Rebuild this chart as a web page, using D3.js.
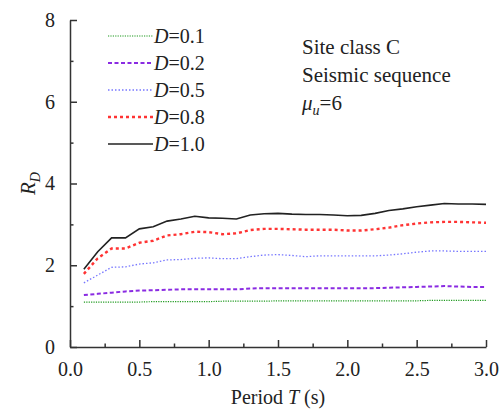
<!DOCTYPE html>
<html>
<head>
<meta charset="utf-8">
<script src="https://cdn.jsdelivr.net/npm/d3@7"></script>
<style>
  body { margin: 0; background: #fff; }
  svg text { font-family: 'Liberation Serif', 'Times New Roman', Times, 'DejaVu Serif', serif; fill: #222; }
</style>
</head>
<body>
<div id="chart"></div>
<script>
// period values (s)
var periods = [0.1, 0.2, 0.3, 0.4, 0.5, 0.6, 0.7, 0.8, 0.9, 1.0,
  1.1, 1.2, 1.3, 1.4, 1.5, 1.6, 1.7, 1.8, 1.9, 2.0,
  2.1, 2.2, 2.3, 2.4, 2.5, 2.6, 2.7, 2.8, 2.9, 3.0];

// R_D
var rd01 = [1.10, 1.10, 1.10, 1.10, 1.10, 1.11, 1.11, 1.11, 1.11, 1.11,
  1.12, 1.12, 1.12, 1.12, 1.13, 1.13, 1.13, 1.13, 1.13, 1.13,
  1.13, 1.13, 1.13, 1.13, 1.13, 1.14, 1.14, 1.14, 1.14, 1.14];
var rd02 = [1.27, 1.30, 1.33, 1.36, 1.38, 1.39, 1.40, 1.41, 1.41, 1.41,
  1.41, 1.41, 1.43, 1.44, 1.44, 1.44, 1.44, 1.44, 1.44, 1.44,
  1.44, 1.44, 1.45, 1.46, 1.47, 1.48, 1.49, 1.48, 1.47, 1.47];
var rd05 = [1.57, 1.76, 1.95, 1.96, 2.03, 2.06, 2.13, 2.14, 2.17, 2.18,
  2.16, 2.16, 2.21, 2.25, 2.26, 2.24, 2.21, 2.23, 2.23, 2.23,
  2.23, 2.23, 2.25, 2.28, 2.32, 2.35, 2.35, 2.34, 2.34, 2.34];
var rd08 = [1.79, 2.17, 2.41, 2.41, 2.55, 2.60, 2.73, 2.76, 2.82, 2.81,
  2.76, 2.78, 2.86, 2.89, 2.89, 2.88, 2.87, 2.87, 2.87, 2.85,
  2.85, 2.88, 2.92, 2.98, 3.02, 3.05, 3.06, 3.06, 3.05, 3.04];
var rd10 = [1.90, 2.33, 2.67, 2.67, 2.89, 2.94, 3.08, 3.13, 3.20, 3.16,
  3.15, 3.13, 3.23, 3.26, 3.27, 3.25, 3.24, 3.24, 3.23, 3.21,
  3.22, 3.27, 3.34, 3.38, 3.43, 3.47, 3.51, 3.50, 3.50, 3.49];

var legendLabels = ["0.1", "0.2", "0.5", "0.8", "1.0"];
var xTicks = [0, 0.5, 1.0, 1.5, 2.0, 2.5, 3.0];
var yTicks = [0, 2, 4, 6, 8];

var svgWidth = 501;
var svgHeight = 412;
var margin = { top: 20, right: 15, bottom: 65, left: 70 };
var width = svgWidth - margin.left - margin.right;
var height = svgHeight - margin.top - margin.bottom;

var serif = "'Liberation Serif', 'Times New Roman', Times, 'DejaVu Serif', serif";

var svg = d3.select("#chart").append("svg")
  .attr("width", svgWidth)
  .attr("height", svgHeight)
  .attr("font-family", serif);

var chartGroup = svg.append("g")
  .attr("transform", `translate(${margin.left}, ${margin.top})`);

var x = d3.scaleLinear().domain([0, 3]).range([0, width]);
var y = d3.scaleLinear().domain([0, 8]).range([height, 0]);

// minor ticks first, then major ticks with labels
chartGroup.append("g")
  .attr("transform", `translate(0, ${height})`)
  .call(d3.axisTop(x).tickValues(d3.range(0.25, 3, 0.5)).tickSize(3.5).tickFormat(""))
  .call(g => g.select(".domain").remove());
chartGroup.append("g")
  .call(d3.axisRight(y).tickValues([1, 3, 5, 7]).tickSize(3.5).tickFormat(""))
  .call(g => g.select(".domain").remove());

var xAxis = chartGroup.append("g")
  .attr("transform", `translate(0, ${height})`)
  .call(d3.axisBottom(x).tickValues(xTicks).tickSizeInner(-7).tickSizeOuter(0)
    .tickPadding(15).tickFormat(d3.format(".1f")));
var yAxis = chartGroup.append("g")
  .call(d3.axisLeft(y).tickValues(yTicks).tickSizeInner(-7).tickSizeOuter(0)
    .tickPadding(15).tickFormat(d3.format("d")));

svg.selectAll("g").attr("font-family", serif);
svg.selectAll(".domain, .tick line").attr("stroke", "#333").attr("stroke-width", 1.5);
svg.selectAll(".tick text").attr("font-size", "20px").attr("fill", "#222")
  .attr("font-family", serif);

var series = [
  { vals: rd01, color: "#1f9a1f", width: 1.2, dash: "1.2,1.2" },
  { vals: rd02, color: "#8a2be2", width: 2, dash: "4,2.5" },
  { vals: rd05, color: "#7777ff", width: 1.3, dash: "1.5,2" },
  { vals: rd08, color: "#ff3333", width: 2.4, dash: "3,3" },
  { vals: rd10, color: "#222", width: 1.6, dash: null }
];

var line = d3.line()
  .x((d, i) => x(periods[i]))
  .y(d => y(d));

series.forEach(function(s) {
  chartGroup.append("path")
    .datum(s.vals)
    .attr("fill", "none")
    .attr("stroke", s.color)
    .attr("stroke-width", s.width)
    .attr("stroke-dasharray", s.dash)
    .attr("d", line);
});

// legend
var legend = svg.append("g");
series.forEach(function(s, i) {
  var ly = 36 + i * 27;
  legend.append("line")
    .attr("x1", 108).attr("x2", 153)
    .attr("y1", ly).attr("y2", ly)
    .attr("stroke", s.color)
    .attr("stroke-width", s.width)
    .attr("stroke-dasharray", s.dash);
  var t = legend.append("text")
    .attr("x", 154).attr("y", ly + 7)
    .attr("font-size", "20px");
  t.append("tspan").attr("font-style", "italic").text("D");
  t.append("tspan").text("=" + legendLabels[i]);
});

// annotation
svg.append("text").attr("x", 302).attr("y", 54).attr("font-size", "21px").text("Site class C");
svg.append("text").attr("x", 302).attr("y", 82).attr("font-size", "21px").text("Seismic sequence");
var mu = svg.append("text").attr("x", 302).attr("y", 110).attr("font-size", "21px");
mu.append("tspan").attr("font-style", "italic").text("μ");
mu.append("tspan").attr("font-style", "italic").attr("font-size", "14px").attr("dy", 5).text("u");
mu.append("tspan").attr("dy", -5).text("=6");

// axis titles
var xt = svg.append("text")
  .attr("x", margin.left + width / 2).attr("y", 404)
  .attr("text-anchor", "middle").attr("font-size", "20px");
xt.append("tspan").text("Period ");
xt.append("tspan").attr("font-style", "italic").text("T");
xt.append("tspan").text(" (s)");

var yt = svg.append("text")
  .attr("transform", `translate(35, ${margin.top + height / 2}) rotate(-90)`)
  .attr("text-anchor", "middle").attr("font-size", "21px");
yt.append("tspan").attr("font-style", "italic").text("R");
yt.append("tspan").attr("font-style", "italic").attr("font-size", "14px").attr("dy", 5).text("D");
</script>
</body>
</html>
